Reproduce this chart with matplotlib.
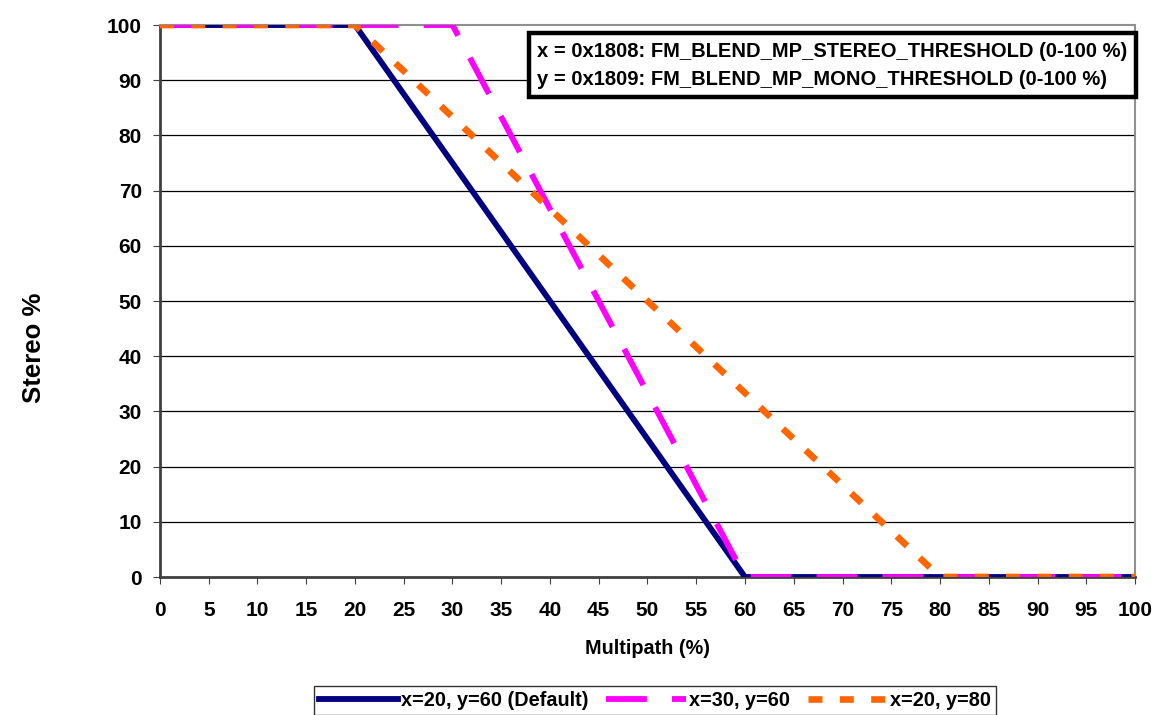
import matplotlib.pyplot as plt

plt.rcParams['font.family'] = ['Liberation Sans', 'DejaVu Sans']
plt.rcParams['font.weight'] = 'bold'

# series (break points of each curve)
x_default = [0, 20, 60, 100]
y_default = [100, 100, 0, 0]
x_30_60 = [0, 30, 60, 100]
y_30_60 = [100, 100, 0, 0]
x_20_80 = [0, 20, 80, 100]
y_20_80 = [100, 100, 0, 0]

labels = ['x=20, y=60 (Default)', 'x=30, y=60', 'x=20, y=80']
x_ticks = list(range(0, 101, 5))
y_ticks = list(range(0, 101, 10))

fig = plt.figure(figsize=(11.55, 7.15), dpi=100)
ax = fig.add_axes([0.1385, 0.193, 0.8442, 0.772])

# horizontal grid lines
for yv in y_ticks[1:-1]:
    ax.axhline(yv, color='black', linewidth=0.9, zorder=1)

ax.plot(x_default, y_default, color='#000080', linewidth=4.2, label=labels[0], zorder=3)
ax.plot(x_30_60, y_30_60, color='#FF00FF', linewidth=4.2, dashes=(7, 4.3), label=labels[1], zorder=4)
ax.plot(x_20_80, y_20_80, color='#FF6600', linewidth=4.8, dashes=(2.1, 2.6), label=labels[2], zorder=5)

ax.set_xlim(0, 100)
ax.set_ylim(0, 100)
ax.set_xticks(x_ticks)
ax.set_yticks(y_ticks)
ax.tick_params(axis='both', labelsize=15, length=5, color='#404040', direction='out')
ax.tick_params(axis='x', pad=12)
ax.tick_params(axis='y', pad=8)
for lab in ax.get_xticklabels() + ax.get_yticklabels():
    lab.set_fontweight('bold')

for side in ['top', 'right']:
    ax.spines[side].set_color('#909090')
    ax.spines[side].set_linewidth(1.5)
for side in ['left', 'bottom']:
    ax.spines[side].set_color('#404040')
    ax.spines[side].set_linewidth(2)
for sp in ax.spines.values():
    sp.set_zorder(2)

ax.set_xlabel('Multipath (%)', fontsize=14.3, fontweight='bold')
ax.xaxis.label.set_va('center')
ax.xaxis.set_label_coords(0.5, -0.129)
ax.set_ylabel('Stereo %', fontsize=18.5, fontweight='bold')
ax.yaxis.label.set_va('center')
ax.yaxis.set_label_coords(-0.129, 0.415)

ax.text(0.387, 0.97,
        'x = 0x1808: FM_BLEND_MP_STEREO_THRESHOLD (0-100 %)\n'
        'y = 0x1809: FM_BLEND_MP_MONO_THRESHOLD (0-100 %)',
        transform=ax.transAxes, ha='left', va='top', fontsize=14.5,
        fontweight='bold', linespacing=1.6, zorder=10,
        bbox=dict(boxstyle='square,pad=0.42', facecolor='white',
                  edgecolor='black', linewidth=3.2))

leg = fig.legend(loc='upper center', bbox_to_anchor=(0.567, 0.041), ncol=3,
                 fontsize=14.3, frameon=True, fancybox=False, edgecolor='black',
                 handlelength=4.0, columnspacing=0.9, handletextpad=0.15,
                 borderpad=0.25, borderaxespad=0)
leg.get_frame().set_linewidth(1.0)
for t in leg.get_texts():
    t.set_fontweight('bold')

fig.savefig('out.png', dpi=100)
